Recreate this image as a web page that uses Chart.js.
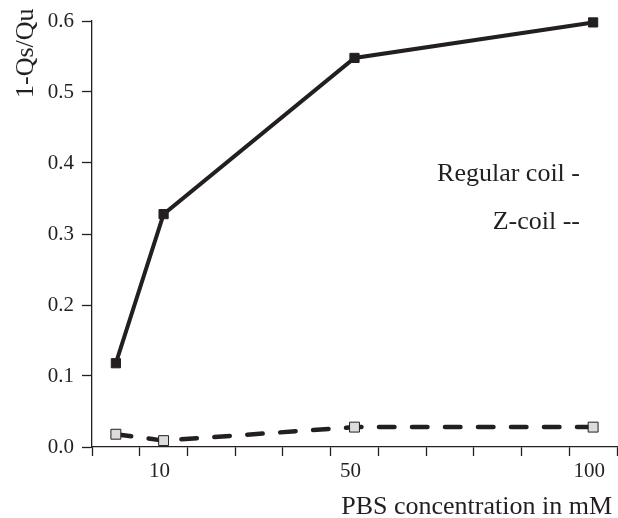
<!DOCTYPE html>
<html><head><meta charset="utf-8">
<script src="https://cdn.jsdelivr.net/npm/chart.js@4/dist/chart.umd.min.js"></script>
<style>html,body{margin:0;padding:0;background:#fff}canvas{display:block}</style>
</head><body>
<canvas id="c" width="618" height="518"></canvas>
<script>
const concentrations = [0, 10, 50, 100];
const regularCoil = [0.118, 0.328, 0.548, 0.598];
const zCoil = [0.018, 0.009, 0.028, 0.028];
const xLabelTicks = [10, 50, 100];
const xMarkTicks = [-5, 5, 15, 25, 35, 45, 55, 65, 75, 85, 95, 105];
const yTicks = [0, 0.1, 0.2, 0.3, 0.4, 0.5, 0.6];
const yTitle = '1-Qs/Qu';
const xTitle = 'PBS concentration in mM';
const seriesNames = ['Regular coil -', 'Z-coil --'];

const INK = '#231f20';
const SERIF = '"Liberation Serif", "Times New Roman", serif';

const textPlugin = {
  id: 'texts',
  afterDraw(chart) {
    const ctx = chart.ctx;
    ctx.save();
    ctx.fillStyle = INK;
    ctx.font = '26px ' + SERIF;
    ctx.textBaseline = 'alphabetic';
    ctx.textAlign = 'right';
    ctx.fillText(seriesNames[0], 580, 181);
    ctx.fillText(seriesNames[1], 580, 229);
    ctx.fillText(xTitle, 612, 514);
    ctx.translate(33, 98);
    ctx.rotate(-Math.PI / 2);
    ctx.textAlign = 'left';
    ctx.fillText(yTitle, 0, 0);
    ctx.restore();
  }
};

const toPts = (ys) => concentrations.map((x, i) => ({x, y: ys[i]}));
const allXTicks = [...xMarkTicks, ...xLabelTicks].sort((a, b) => a - b);

new Chart(document.getElementById('c'), {
  type: 'line',
  data: {
    datasets: [
      {
        label: seriesNames[0],
        data: toPts(regularCoil),
        borderColor: INK,
        backgroundColor: INK,
        borderWidth: 4,
        pointStyle: 'rect',
        pointRadius: 6.5,
        pointBorderWidth: 1,
        pointBorderColor: INK,
        pointBackgroundColor: INK,
        clip: false,
        tension: 0
      },
      {
        label: seriesNames[1],
        data: toPts(zCoil),
        borderColor: INK,
        borderWidth: 4.5,
        borderDash: [15.5, 17.5],
        borderCapStyle: 'round',
        pointStyle: 'rect',
        pointRadius: 7,
        pointBorderWidth: 1,
        pointBorderColor: INK,
        pointBackgroundColor: '#dcdcdc',
        clip: false,
        tension: 0
      }
    ]
  },
  options: {
    responsive: false,
    animation: false,
    devicePixelRatio: 1,
    layout: {autoPadding: false, padding: {top: 21, right: 1, left: 0, bottom: 0}},
    plugins: {legend: {display: false}, tooltip: {enabled: false}, title: {display: false}},
    scales: {
      x: {
        type: 'linear',
        min: -5,
        max: 105,
        afterBuildTicks: (s) => { s.ticks = allXTicks.map(v => ({value: v})); },
        afterFit: (s) => { s.height = 71; s.paddingLeft = 0; s.paddingRight = 0; },
        border: {display: true, color: INK, width: 1.3},
        grid: {
          display: true,
          drawOnChartArea: false,
          drawTicks: true,
          tickLength: 9,
          tickWidth: 1.3,
          tickColor: (c) => (c.tick && xLabelTicks.includes(c.tick.value)) ? 'rgba(0,0,0,0)' : INK
        },
        ticks: {
          autoSkip: false,
          maxRotation: 0,
          minRotation: 0,
          padding: 3,
          labelOffset: -4,
          color: INK,
          font: {family: SERIF, size: 21},
          callback: (v) => xLabelTicks.includes(v) ? String(v) : ''
        }
      },
      y: {
        type: 'linear',
        min: 0,
        max: 0.6,
        afterBuildTicks: (s) => { s.ticks = yTicks.map(v => ({value: v})); },
        afterFit: (s) => { s.width = 92; },
        border: {display: true, color: INK, width: 1.3},
        grid: {display: true, drawOnChartArea: false, drawTicks: true, tickLength: 10, tickWidth: 1.3, tickColor: INK},
        ticks: {
          padding: 8,
          color: INK,
          font: {family: SERIF, size: 21},
          callback: (v) => Number(v).toFixed(1)
        }
      }
    }
  },
  plugins: [textPlugin]
});
</script>
</body></html>
